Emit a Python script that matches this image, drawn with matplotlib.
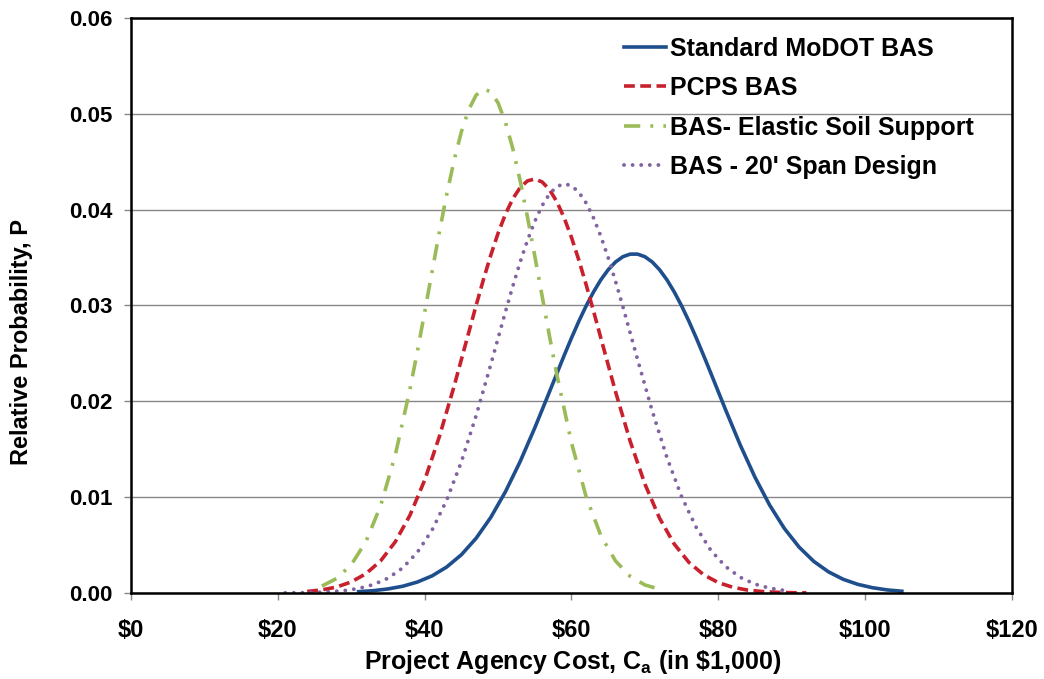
import matplotlib.pyplot as plt

plt.rcParams['font.family'] = ['Liberation Sans', 'DejaVu Sans']
plt.rcParams['font.weight'] = 'bold'
plt.rcParams['mathtext.fontset'] = 'custom'
plt.rcParams['mathtext.bf'] = 'Liberation Sans:bold'
plt.rcParams['mathtext.rm'] = 'Liberation Sans:bold'

# cost in $1,000 / relative probability
std_cost = [31, 33, 35, 37, 39, 41, 43, 45, 47, 49, 51, 53, 55, 57,
            59, 60, 61, 62, 63, 64, 65, 66, 67, 68, 69, 70, 71, 72, 73, 74, 75, 76, 77, 78, 79,
            81, 83, 85, 87, 89, 91, 93, 95, 97, 99, 101, 103, 105]
std_p = [0.00014, 0.00024, 0.00042, 0.00070, 0.00114, 0.00178, 0.00271, 0.00399, 0.00570,
         0.00788, 0.01056, 0.01370, 0.01723, 0.02099,
         0.02478, 0.02661, 0.02835, 0.02996, 0.03141, 0.03268, 0.03373, 0.03454, 0.03509,
         0.03536, 0.03536, 0.03509, 0.03454, 0.03373, 0.03268, 0.03141, 0.02996, 0.02835,
         0.02661, 0.02478, 0.02290,
         0.01910, 0.01542, 0.01207, 0.00916, 0.00673, 0.00479, 0.00330, 0.00221, 0.00143,
         0.00090, 0.00055, 0.00032, 0.00018]

pcps_cost = [24, 26, 28, 30, 32, 34, 36, 38, 40, 42, 44,
             46, 47, 48, 49, 50, 51, 52, 53, 54, 55, 56, 57, 58, 59, 60, 61, 62, 63, 64,
             66, 68, 70, 72, 74, 76, 78, 80, 82, 84, 86, 88, 90, 92]
pcps_p = [0.00016, 0.00032, 0.00062, 0.00115, 0.00201, 0.00335, 0.00534, 0.00812, 0.01177,
          0.01631, 0.02155,
          0.02717, 0.02998, 0.03269, 0.03523, 0.03754, 0.03952, 0.04113, 0.04230, 0.04300,
          0.04320, 0.04289, 0.04210, 0.04084, 0.03915, 0.03710, 0.03474, 0.03216, 0.02942,
          0.02660,
          0.02100, 0.01582, 0.01137, 0.00780, 0.00510, 0.00319, 0.00190, 0.00108, 0.00059,
          0.00030, 0.00015, 0.00007, 0.00003, 0.00001]

elastic_cost = [26, 28, 30, 32, 34, 36,
                38, 39, 40, 41, 42, 43, 44, 45, 46, 47, 48, 49, 50, 51, 52, 53, 54, 55, 56,
                57, 58, 60, 62, 64, 66, 68, 70, 72]
elastic_p = [0.00072, 0.00151, 0.00295, 0.00536, 0.00910, 0.01441,
             0.02127, 0.02518, 0.02930, 0.03350, 0.03765, 0.04157, 0.04511, 0.04812, 0.05043,
             0.05194, 0.05258, 0.05231, 0.05114, 0.04913, 0.04639, 0.04304, 0.03925, 0.03517,
             0.03098, 0.02681, 0.02280,
             0.01566, 0.01003, 0.00599, 0.00334, 0.00173, 0.00084, 0.00038]

span_cost = [21, 23, 25, 27, 29, 31, 33, 35, 37, 39, 41, 43, 45, 47, 49,
             51, 52, 53, 54, 55, 56, 57, 58, 59, 60, 61, 62, 63, 64, 65, 66, 67,
             69, 71, 73, 75, 77, 79, 81, 83, 85, 87, 89]
span_p = [0.00001, 0.00002, 0.00006, 0.00012, 0.00024, 0.00047, 0.00087, 0.00154, 0.00261,
          0.00424, 0.00655, 0.00969, 0.01369, 0.01848, 0.02382,
          0.02934, 0.03200, 0.03451, 0.03679, 0.03878, 0.04042, 0.04164, 0.04241, 0.04270,
          0.04250, 0.04182, 0.04069, 0.03914, 0.03722, 0.03499, 0.03252, 0.02988,
          0.02437, 0.01899, 0.01414, 0.01005, 0.00683, 0.00443, 0.00275, 0.00163, 0.00092,
          0.00050, 0.00026]

x_ticks = [0, 20, 40, 60, 80, 100, 120]
x_labels = ['$0', '$20', '$40', '$60', '$80', '$100', '$120']
y_ticks = [0.00, 0.01, 0.02, 0.03, 0.04, 0.05, 0.06]

fig = plt.figure(figsize=(10.44, 6.79), dpi=100)
ax = fig.add_axes([0.1255, 0.1267, 0.8438, 0.8468])

ax.plot(std_cost, std_p, color='#1F4E8C', lw=2.6, label='Standard MoDOT BAS')
ax.plot(pcps_cost, pcps_p, color='#C8202C', lw=2.6, dashes=(3.0, 1.5), label='PCPS BAS')
ax.plot(elastic_cost, elastic_p, color='#9BBB59', lw=2.6, dashes=(4.5, 2.8, 0.8, 2.8),
        label='BAS- Elastic Soil Support')
ax.plot(span_cost, span_p, color='#8064A2', lw=2.8, dashes=(0.01, 2.2),
        dash_capstyle='round', label="BAS - 20' Span Design")

ax.set_xlim(0, 120)
ax.set_ylim(0, 0.06)
ax.set_xticks(x_ticks)
ax.set_xticklabels(x_labels)
ax.set_yticks(y_ticks)
ax.set_yticklabels(['%.2f' % v for v in y_ticks])
ax.yaxis.grid(True, color='#878787', lw=1.0)
ax.set_axisbelow(True)
for s in ax.spines.values():
    s.set_color('black')
    s.set_linewidth(1.8)
ax.tick_params(axis='both', direction='out', length=5, width=1, color='#878787')
ax.tick_params(axis='y', labelsize=16, pad=8)
ax.tick_params(axis='x', labelsize=17, pad=14)

fig.text(573 / 1044, 1 - 662 / 679, 'Project Agency Cost, C$_\\mathbf{a}$ (in \\$1,000)',
         fontsize=18, fontweight='bold', ha='center', va='center')
fig.text(22 / 1044, 1 - 342 / 679, 'Relative Probability, P', rotation=90, fontsize=17,
         fontweight='bold', ha='center', va='center')

ax.legend(loc='upper left', bbox_to_anchor=(0.548, 0.985), frameon=False, fontsize=18,
          handlelength=1.7, handletextpad=0.15, labelspacing=0.62, borderaxespad=0)

fig.savefig('out.png', dpi=100)
